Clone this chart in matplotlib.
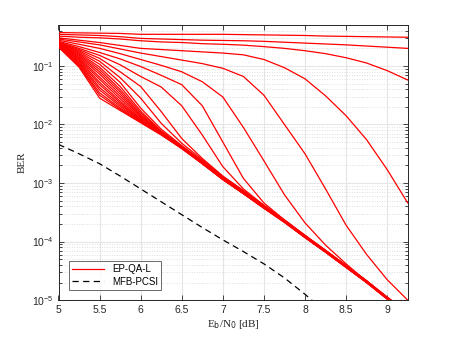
import numpy as np
import matplotlib
matplotlib.use("Agg")
import matplotlib.pyplot as plt
from matplotlib.ticker import LogLocator, NullFormatter, FixedLocator

plt.rcParams['font.family'] = ['Liberation Sans', 'DejaVu Sans']
plt.rcParams['mathtext.default'] = 'regular'

# Eb/N0 grid (dB)
snr = [5.0, 5.25, 5.5, 5.75, 6.0, 6.25, 6.5, 6.75, 7.0, 7.25, 7.5, 7.75, 8.0, 8.25, 8.5, 8.75, 9.0, 9.25]

# EP-QA-L curves, log10(BER) (one list per curve)
ep_a = [-0.43, -0.435, -0.44, -0.445, -0.46, -0.46, -0.46, -0.46, -0.46, -0.465, -0.47, -0.475, -0.48, -0.49, -0.495, -0.50, -0.505, -0.51]
ep_b = [-0.46, -0.47, -0.48, -0.50, -0.53, -0.54, -0.55, -0.56, -0.565, -0.57, -0.58, -0.595, -0.61, -0.625, -0.64, -0.66, -0.68, -0.70]
ep_c = [-0.49, -0.51, -0.52, -0.54, -0.57, -0.59, -0.60, -0.62, -0.63, -0.645, -0.67, -0.70, -0.74, -0.79, -0.86, -0.95, -1.08, -1.24]
ep_d = [-0.52, -0.56, -0.60, -0.65, -0.70, -0.72, -0.74, -0.76, -0.78, -0.81, -0.89, -1.03, -1.22, -1.51, -1.85, -2.26, -2.77, -3.34]
ep_e = [-0.54, -0.59, -0.64, -0.71, -0.78, -0.84, -0.90, -0.96, -1.04, -1.18, -1.50, -2.00, -2.50, -3.10, -3.72, -4.22, -4.65, -5.00]
ep_f = [-0.56, -0.63, -0.70, -0.79, -0.89, -0.99, -1.10, -1.27, -1.53, -2.05, -2.62, -3.20, -3.68, -4.06, -4.38, -4.68, -4.96, -5.22]
ep_g2 = [-0.58, -0.67, -0.77, -0.88, -1.01, -1.16, -1.32, -1.68, -2.30, -2.92, -3.34, -3.63, -3.90, -4.16, -4.42, -4.68, -4.96, -5.22]
ep_g1 = [-0.59, -0.70, -0.82, -0.98, -1.18, -1.36, -1.68, -2.18, -2.72, -3.10, -3.38, -3.64, -3.90, -4.16, -4.42, -4.68, -4.96, -5.22]
ep_h1 = [-0.60, -0.72, -0.87, -1.10, -1.35, -1.78, -2.24, -2.58, -2.88, -3.13, -3.38, -3.63, -3.89, -4.15, -4.41, -4.67, -4.95, -5.21]
ep_h2 = [-0.61, -0.74, -0.92, -1.20, -1.55, -1.98, -2.32, -2.60, -2.89, -3.13, -3.39, -3.64, -3.90, -4.15, -4.41, -4.67, -4.95, -5.21]
ep_h3 = [-0.61, -0.76, -0.97, -1.28, -1.72, -2.08, -2.36, -2.62, -2.90, -3.14, -3.39, -3.64, -3.90, -4.15, -4.41, -4.67, -4.95, -5.21]
ep_k12 = [-0.62, -0.78, -1.02, -1.35, -1.77, -2.11, -2.37, -2.63, -2.91, -3.15, -3.40, -3.64, -3.90, -4.15, -4.41, -4.67, -4.96, -5.22]
ep_k11 = [-0.62, -0.80, -1.06, -1.40, -1.80, -2.12, -2.38, -2.64, -2.91, -3.15, -3.40, -3.65, -3.91, -4.16, -4.42, -4.68, -4.96, -5.22]
ep_k10 = [-0.63, -0.82, -1.10, -1.44, -1.83, -2.13, -2.38, -2.64, -2.92, -3.16, -3.41, -3.65, -3.91, -4.16, -4.42, -4.68, -4.96, -5.22]
ep_k9 = [-0.63, -0.84, -1.14, -1.48, -1.85, -2.13, -2.39, -2.65, -2.92, -3.16, -3.41, -3.65, -3.91, -4.16, -4.42, -4.68, -4.97, -5.23]
ep_k8 = [-0.64, -0.86, -1.19, -1.52, -1.87, -2.14, -2.39, -2.65, -2.92, -3.16, -3.41, -3.66, -3.92, -4.17, -4.43, -4.69, -4.97, -5.23]
ep_k7 = [-0.64, -0.88, -1.23, -1.56, -1.89, -2.14, -2.39, -2.65, -2.93, -3.17, -3.42, -3.66, -3.92, -4.17, -4.43, -4.69, -4.97, -5.23]
ep_k6 = [-0.65, -0.90, -1.28, -1.60, -1.91, -2.15, -2.40, -2.66, -2.93, -3.17, -3.42, -3.66, -3.92, -4.17, -4.43, -4.69, -4.97, -5.23]
ep_k5 = [-0.65, -0.92, -1.32, -1.63, -1.92, -2.15, -2.40, -2.66, -2.93, -3.17, -3.42, -3.66, -3.92, -4.17, -4.43, -4.69, -4.97, -5.23]
ep_k4 = [-0.66, -0.94, -1.37, -1.66, -1.93, -2.16, -2.40, -2.66, -2.93, -3.17, -3.42, -3.66, -3.92, -4.17, -4.43, -4.69, -4.97, -5.23]
ep_k3 = [-0.66, -0.96, -1.41, -1.69, -1.94, -2.16, -2.40, -2.66, -2.94, -3.18, -3.42, -3.67, -3.93, -4.18, -4.44, -4.70, -4.98, -5.24]
ep_k2 = [-0.67, -0.98, -1.46, -1.72, -1.95, -2.17, -2.41, -2.67, -2.94, -3.18, -3.43, -3.67, -3.93, -4.18, -4.44, -4.70, -4.98, -5.24]
ep_k1 = [-0.67, -1.00, -1.50, -1.74, -1.96, -2.17, -2.41, -2.67, -2.94, -3.18, -3.43, -3.67, -3.93, -4.18, -4.44, -4.70, -4.98, -5.24]
ep_k0 = [-0.68, -1.02, -1.55, -1.76, -1.97, -2.18, -2.41, -2.67, -2.94, -3.18, -3.43, -3.67, -3.93, -4.18, -4.44, -4.70, -4.98, -5.24]

ep_curves = [ep_a, ep_b, ep_c, ep_d, ep_e, ep_f, ep_g2, ep_g1, ep_h1, ep_h2, ep_h3,
             ep_k12, ep_k11, ep_k10, ep_k9, ep_k8, ep_k7, ep_k6, ep_k5, ep_k4, ep_k3, ep_k2, ep_k1, ep_k0]

# MFB-PCSI bound, log10(BER)
snr_mfb = [5.0, 5.25, 5.5, 5.75, 6.0, 6.25, 6.5, 6.75, 7.0, 7.25, 7.5, 7.75, 8.0, 8.25]
mfb = [-2.34, -2.50, -2.67, -2.88, -3.10, -3.32, -3.54, -3.76, -3.97, -4.17, -4.38, -4.62, -4.90, -5.20]

fig = plt.figure(figsize=(4.5, 3.38), dpi=100)
ax = fig.add_axes([0.13, 0.112, 0.776, 0.814])

for i, c in enumerate(ep_curves):
    ax.semilogy(snr, 10.0 ** np.array(c), color='#ff0000', linewidth=0.9,
                label='EP-QA-L' if i == 0 else None, zorder=3)
ax.semilogy(snr_mfb, 10.0 ** np.array(mfb), color='black', linestyle=(0, (5, 3.5)),
            linewidth=0.9, label='MFB-PCSI', zorder=3)

ax.set_xlim(5, 9.25)
ax.set_ylim(1e-5, 0.5)
ax.xaxis.set_major_locator(FixedLocator([5, 5.5, 6, 6.5, 7, 7.5, 8, 8.5, 9]))
ax.set_xticklabels(['5', '5.5', '6', '6.5', '7', '7.5', '8', '8.5', '9'])
ax.yaxis.set_major_locator(LogLocator(base=10, numticks=10))
ax.yaxis.set_minor_locator(LogLocator(base=10, subs=np.arange(2, 10), numticks=10))
ax.yaxis.set_minor_formatter(NullFormatter())

gc = '#262626'
ax.grid(True, which='major', color='#e6e6e6', linewidth=0.8, zorder=0)
ax.grid(True, which='minor', axis='y', color='#d2d2d2', linestyle=(0, (1, 2)), linewidth=0.6, zorder=0)
ax.set_axisbelow(True)
ax.tick_params(which='both', direction='in', top=True, right=True, colors=gc,
               labelsize=7.5, width=0.6)
ax.tick_params(which='major', length=3.5)
ax.tick_params(which='minor', length=2)
for s in ax.spines.values():
    s.set_color(gc)
    s.set_linewidth(0.7)

ax.set_xlabel(r'E$_{\rm b}$/N$_{\rm 0}$ [dB]', family='Liberation Serif', fontsize=8, color=gc, labelpad=2)
ax.set_ylabel('BER', family='Liberation Serif', fontsize=8, color=gc, labelpad=4)

leg = ax.legend(loc='lower left', bbox_to_anchor=(0.029, 0.036), borderaxespad=0,
                fontsize=7, frameon=True, fancybox=False, handlelength=3.3,
                borderpad=0.35, labelspacing=0.3)
leg.get_frame().set_edgecolor(gc)
leg.get_frame().set_linewidth(0.6)

fig.savefig('out.png', dpi=100)
